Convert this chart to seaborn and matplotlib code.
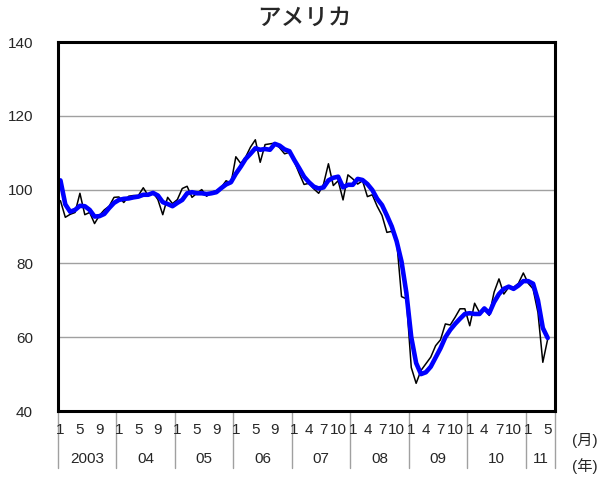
# ============================================================
# アメリカ — monthly index (black) and trend (blue), 2003/1 - 2011/5
# ============================================================
import matplotlib
matplotlib.use('Agg')
import pandas as pd
import matplotlib.pyplot as plt
import seaborn as sns

# ─────────────────────────────────────────
# Data
# ─────────────────────────────────────────
years = ['2003', '04', '05', '06', '07', '08', '09', '10', '11']
month_labels = [
    [1, 5, 9], [1, 5, 9], [1, 5, 9], [1, 5, 9],
    [1, 4, 7, 10], [1, 4, 7, 10], [1, 4, 7, 10], [1, 4, 7, 10],
    [1, 5],
]

monthly = [
    97.0, 92.5, 93.3, 93.8, 99.0, 93.2, 93.8, 90.8, 93.0, 94.5, 95.5, 97.9,         # 2003
    98.0, 96.5, 98.2, 98.4, 98.4, 100.5, 98.4, 99.2, 97.3, 93.2, 97.9, 96.2,        # 2004
    97.3, 100.3, 100.9, 97.9, 99.0, 100.0, 98.2, 99.3, 99.7, 100.6, 102.4, 101.7,   # 2005
    108.9, 107.1, 108.8, 111.5, 113.5, 107.4, 112.2, 112.4, 112.6, 111.3, 109.7, 110.1,  # 2006
    107.6, 104.4, 101.4, 101.7, 100.2, 99.0, 101.5, 107.0, 101.1, 102.4, 97.2, 104.0,   # 2007
    102.9, 101.5, 102.4, 98.1, 98.6, 95.5, 93.0, 88.4, 88.7, 86.2, 71.0, 70.4,      # 2008
    51.8, 47.5, 51.0, 52.8, 54.6, 57.7, 59.3, 63.6, 63.3, 65.4, 67.7, 67.7,         # 2009
    63.1, 69.2, 66.7, 67.7, 65.9, 72.2, 75.8, 71.7, 73.5, 73.5, 74.6, 77.4,         # 2010
    74.6, 73.1, 66.7, 53.2, 59.5,                                                   # 2011
]

trend = [
    102.5, 96.0, 94.0, 94.5, 95.6, 95.5, 94.5, 92.7, 92.8, 93.4, 95.0, 96.4,        # 2003
    97.2, 97.5, 97.6, 97.9, 98.1, 98.6, 98.6, 99.1, 98.4, 96.6, 96.1, 95.5,         # 2004
    96.4, 97.2, 99.0, 99.3, 99.0, 99.0, 98.8, 99.0, 99.3, 100.4, 101.4, 102.0,      # 2005
    104.3, 106.2, 108.3, 109.7, 111.2, 110.8, 111.0, 110.8, 112.4, 111.9, 110.9, 110.4,  # 2006
    108.0, 105.8, 103.5, 102.0, 100.8, 100.3, 100.6, 102.5, 103.2, 103.5, 100.6, 101.3,  # 2007
    101.3, 102.9, 102.6, 101.5, 99.9, 97.5, 95.8, 93.0, 90.0, 86.0, 80.5, 72.0,     # 2008
    60.0, 53.0, 50.0, 50.5, 52.0, 54.5, 57.0, 60.0, 62.0, 63.6, 65.0, 66.3,         # 2009
    66.5, 66.3, 66.3, 67.8, 66.5, 69.5, 71.7, 73.1, 73.7, 73.1, 74.0, 75.2,         # 2010
    75.2, 74.5, 70.0, 62.5, 59.8,                                                   # 2011
]

df = pd.DataFrame({'t': range(len(monthly)), 'monthly': monthly, 'trend': trend})
n_last = len(monthly) - 0.5

# ─────────────────────────────────────────
# Style
# ─────────────────────────────────────────
sns.set_style('white')
plt.rcParams['font.family'] = ['Liberation Sans', 'Noto Sans CJK JP', 'DejaVu Sans']

fig = plt.figure(figsize=(6.09, 4.79), dpi=100)
ax = fig.add_axes([58 / 609, 1 - 411 / 479, (555 - 58) / 609, (411 - 42) / 479])

sns.lineplot(data=df, x='t', y='monthly', color='black', linewidth=1.1, ax=ax)
sns.lineplot(data=df, x='t', y='trend', color='#0000ff', linewidth=3.3, ax=ax)

ax.set_xlim(-0.5, n_last + 1)
ax.set_ylim(40, 140)
ax.set_yticks(range(40, 141, 20))
ax.set_xticks([])
ax.set_xlabel('')
ax.set_ylabel('')
ax.yaxis.grid(True, color='#a0a0a0', linewidth=1)
ax.set_axisbelow(True)
ax.tick_params(axis='y', length=0, pad=18, labelsize=11)
for s in ax.spines.values():
    s.set_color('black')
    s.set_linewidth(2.2)

# ─────────────────────────────────────────
# Two-row category axis (months / years)
# ─────────────────────────────────────────
tr = ax.get_xaxis_transform()
x_end = n_last + 1
for k, yr in enumerate(years):
    start = 12 * k
    left = start - 0.5
    right = min(start + 11.5, x_end)
    for m in month_labels[k]:
        ax.text(start + m - 1, -0.052, str(m), transform=tr,
                ha='center', va='center', fontsize=11)
    ax.text((left + right) / 2, -0.131, yr, transform=tr,
            ha='center', va='center', fontsize=11)
    ax.plot([left, left], [0, -0.154], transform=tr, clip_on=False,
            color='#a0a0a0', linewidth=1)
ax.plot([x_end, x_end], [0, -0.154], transform=tr, clip_on=False,
        color='#a0a0a0', linewidth=1)

fig.text(585 / 609, 1 - 440 / 479, '(月)', ha='center', va='center', fontsize=11)
fig.text(585 / 609, 1 - 466 / 479, '(年)', ha='center', va='center', fontsize=11)
fig.text(304 / 609, 1 - 19 / 479, 'アメリカ', ha='center', va='center',
         fontsize=17, fontweight='medium')

fig.savefig('out.png', dpi=100)
